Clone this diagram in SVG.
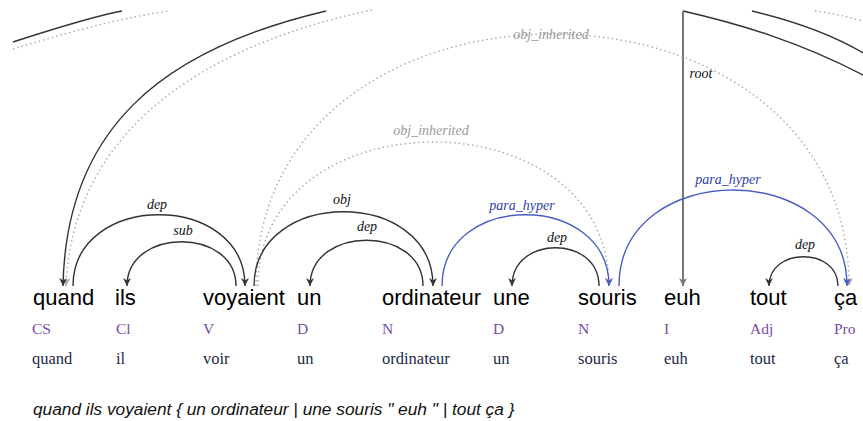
<svg xmlns="http://www.w3.org/2000/svg" width="863" height="421" viewBox="0 0 863 421">
<style>
.w{font-family:"Liberation Sans",Arial,sans-serif;font-size:22px;fill:#000}
.c{font-family:"Liberation Serif","Times New Roman",serif;font-size:15.5px;fill:#7a4aa8}
.l{font-family:"Liberation Serif","Times New Roman",serif;font-size:16.5px;fill:#1c2a48}
.lab{font-family:"Liberation Serif","Times New Roman",serif;font-style:italic;font-size:14px;text-anchor:middle}
.k{fill:none;stroke:#333;stroke-width:1.4}
.b{fill:none;stroke:#4a5ec4;stroke-width:1.4}
.g{fill:none;stroke:#a8a8a8;stroke-width:1.4;stroke-dasharray:1.5 3}
.sent{font-family:"Liberation Sans",Arial,sans-serif;font-style:italic;font-size:17.3px;fill:#111}
</style>
<defs>
<marker id="ak" viewBox="0 0 10 10" refX="10" refY="5" markerWidth="8" markerHeight="8" markerUnits="userSpaceOnUse" orient="auto"><path d="M0,0 L10,5 L0,10 L3,5 z" fill="#333"/></marker>
<marker id="ab" viewBox="0 0 10 10" refX="10" refY="5" markerWidth="8" markerHeight="8" markerUnits="userSpaceOnUse" orient="auto"><path d="M0,0 L10,5 L0,10 L3,5 z" fill="#4a5ec4"/></marker>
<marker id="ag" viewBox="0 0 10 10" refX="10" refY="5" markerWidth="8" markerHeight="8" markerUnits="userSpaceOnUse" orient="auto"><path d="M0,0 L10,5 L0,10 L3,5 z" fill="#a8a8a8"/></marker>
<marker id="ar" viewBox="0 0 10 10" refX="10" refY="5" markerWidth="8" markerHeight="8" markerUnits="userSpaceOnUse" orient="auto"><path d="M0,0 L10,5 L0,10 L3,5 z" fill="#777"/></marker>
</defs>

<g id="connectors">
  <!-- clipped arcs at top -->
  <path class="k" d="M13 42 C50 30, 90 17, 122 11"/>
  <path class="g" d="M13 49 C60 35, 110 20, 168 11"/>
  <path class="g" d="M372 10 C190 48, 72 140, 66 286" marker-end="url(#ag)"/>
  <path class="k" d="M326 11 C160 50, 66 130, 63 286" marker-end="url(#ak)"/>
  <path class="k" d="M683 11 C740 24, 800 42, 865 76"/>
  <path class="k" d="M752 11 C790 20, 830 33, 865 54"/>
  <path class="g" d="M815 11 Q840 14 865 22"/>
  <!-- root -->
  <line x1="683" y1="11" x2="683" y2="286" stroke="#777" stroke-width="2" marker-end="url(#ar)"/>
  <text class="lab" x="701" y="78" fill="#111">root</text>
  <!-- obj_inherited -->
  <path class="g" d="M256 286 C256 -50, 849 -50, 849 286" marker-end="url(#ag)"/>
  <text class="lab" x="551" y="39" fill="#999">obj_inherited</text>
  <path class="g" d="M258 286 C258 94, 609 94, 609 286" marker-end="url(#ag)"/>
  <text class="lab" x="431" y="135" fill="#999">obj_inherited</text>
  <!-- dep quand -> voyaient -->
  <path class="k" d="M73 286 C73 191, 245 191, 245 286" marker-end="url(#ak)"/>
  <text class="lab" x="157" y="209" fill="#111">dep</text>
  <!-- sub -->
  <path class="k" d="M236 286 C236 227, 127 227, 127 286" marker-end="url(#ak)"/>
  <text class="lab" x="183" y="235" fill="#111">sub</text>
  <!-- obj -->
  <path class="k" d="M254 286 C254 187, 433 187, 433 286" marker-end="url(#ak)"/>
  <text class="lab" x="342" y="204" fill="#111">obj</text>
  <!-- dep ordinateur -> un -->
  <path class="k" d="M423 286 C423 225, 310 225, 310 286" marker-end="url(#ak)"/>
  <text class="lab" x="367" y="231" fill="#111">dep</text>
  <!-- para_hyper ordinateur -> souris -->
  <path class="b" d="M442 286 C442 191, 609 191, 609 286" marker-end="url(#ab)"/>
  <text class="lab" x="522" y="210" fill="#3040a8">para_hyper</text>
  <!-- dep souris -> une -->
  <path class="k" d="M599 286 C599 235, 512 235, 512 286" marker-end="url(#ak)"/>
  <text class="lab" x="557" y="242" fill="#111">dep</text>
  <!-- para_hyper souris -> ça -->
  <path class="b" d="M619 286 C619 158, 847 158, 847 286" marker-end="url(#ab)"/>
  <text class="lab" x="728" y="184" fill="#3040a8">para_hyper</text>
  <!-- dep ça -> tout -->
  <path class="k" d="M838 286 C838 247, 769 247, 769 286" marker-end="url(#ak)"/>
  <text class="lab" x="805" y="249" fill="#111">dep</text>
</g>

<g id="w1"><text class="w" x="33" y="305">quand</text><text class="c" x="32" y="334">CS</text><text class="l" x="32" y="364">quand</text></g>
<g id="w2"><text class="w" x="115" y="305">ils</text><text class="c" x="116" y="334">Cl</text><text class="l" x="116" y="364">il</text></g>
<g id="w3"><text class="w" x="203" y="305">voyaient</text><text class="c" x="203" y="334">V</text><text class="l" x="203" y="364">voir</text></g>
<g id="w4"><text class="w" x="297" y="305">un</text><text class="c" x="297" y="334">D</text><text class="l" x="297" y="364">un</text></g>
<g id="w5"><text class="w" x="382" y="305">ordinateur</text><text class="c" x="382" y="334">N</text><text class="l" x="382" y="364">ordinateur</text></g>
<g id="w6"><text class="w" x="493" y="305">une</text><text class="c" x="493" y="334">D</text><text class="l" x="493" y="364">un</text></g>
<g id="w7"><text class="w" x="578" y="305">souris</text><text class="c" x="578" y="334">N</text><text class="l" x="578" y="364">souris</text></g>
<g id="w8"><text class="w" x="664" y="305">euh</text><text class="c" x="664" y="334">I</text><text class="l" x="664" y="364">euh</text></g>
<g id="w9"><text class="w" x="750" y="305">tout</text><text class="c" x="750" y="334">Adj</text><text class="l" x="750" y="364">tout</text></g>
<g id="w10"><text class="w" x="834" y="305">ça</text><text class="c" x="834" y="334">Pro</text><text class="l" x="834" y="364">ça</text></g>

<g id="sentence"><text class="sent" x="33" y="415">quand ils voyaient { un ordinateur | une souris " euh " | tout ça }</text></g>
</svg>
